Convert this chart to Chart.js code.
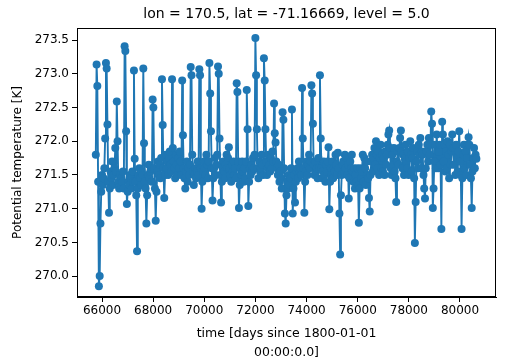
<!DOCTYPE html>
<html>
<head>
<meta charset="utf-8">
<script src="https://cdn.jsdelivr.net/npm/chart.js@4/dist/chart.umd.min.js"></script>
<style>
  html, body { margin: 0; padding: 0; background: #fff; }
  #wrap { width: 514px; height: 360px; }
</style>
</head>
<body>
<div id="wrap"><canvas id="chart" width="514" height="360"></canvas></div>
<script>
// monthly series, first month 1980-01, values in K
const startYear = 1980;
const theta = [
  271.8, 273.14, 272.82, 271.4, 269.85, 270.0, 270.78, 271.25, 271.5, 271.35,
  271.45, 271.6, 272.04, 273.16, 273.08, 272.25, 271.4, 270.94, 271.3, 271.55,
  271.45, 271.7, 271.35, 271.5, 271.6, 271.9, 271.55, 272.59, 272.0, 271.4,
  271.3, 271.5, 271.35, 271.45, 271.4, 271.55, 271.3, 273.41, 273.34, 272.15,
  271.07, 271.25, 271.4, 271.35, 271.5, 271.45, 271.3, 271.55, 271.4, 273.05,
  271.74, 271.4, 271.2, 270.37, 271.3, 271.5, 271.6, 271.45, 271.35, 271.55,
  271.5, 273.08, 271.97, 271.4, 271.3, 270.78, 271.2, 271.5, 271.65, 271.45,
  271.55, 271.6, 271.4, 272.62, 272.5, 271.6, 271.3, 270.82, 271.25, 271.55,
  271.7, 271.5, 271.65, 271.45, 271.75, 272.92, 272.24, 271.6, 271.16, 271.5,
  271.8, 271.6, 271.7, 271.5, 271.75, 271.85, 271.65, 271.55, 272.92, 271.9,
  271.7, 271.6, 271.45, 271.8, 271.65, 271.5, 271.75, 271.6, 271.85, 271.7,
  271.5, 272.9, 272.09, 271.6, 271.45, 271.3, 271.55, 271.7, 271.4, 271.6,
  271.5, 271.65, 273.1, 272.98, 271.8, 271.55, 271.35, 271.5, 271.6, 271.45,
  271.55, 271.7, 271.5, 273.07, 272.98, 271.6, 271.0, 271.4, 271.55, 271.7,
  271.6, 271.5, 271.8, 271.65, 271.45, 271.7, 273.16, 272.71, 272.15, 271.6,
  271.12, 271.45, 271.6, 271.75, 271.5, 271.65, 271.8, 273.11, 273.0, 272.04,
  271.5, 271.09, 271.4, 271.6, 271.7, 271.55, 271.45, 271.65, 271.8, 271.6,
  271.75, 271.91, 271.6, 271.5, 271.4, 271.65, 271.55, 271.7, 271.5, 271.6,
  271.45, 272.86, 272.73, 271.7, 271.01, 271.35, 271.6, 271.5, 271.7, 271.55,
  271.4, 271.6, 271.45, 271.7, 272.76, 272.18, 271.04, 271.4, 271.6, 271.5,
  271.65, 271.55, 271.75, 271.6, 271.8, 273.53, 272.98, 272.18, 271.6, 271.45,
  271.7, 271.55, 271.6, 271.8, 271.65, 271.5, 273.23, 272.9, 272.18, 271.7,
  271.5, 271.6, 271.8, 271.65, 271.55, 271.75, 271.6, 271.85, 271.7, 272.56,
  272.12, 271.98, 271.7, 271.6, 271.5, 271.65, 271.4, 271.55, 271.45, 271.3,
  272.43, 272.32, 271.6, 270.93, 270.78, 271.2, 271.4, 271.3, 271.5, 271.35,
  271.45, 271.6, 272.47, 270.93, 271.3, 271.5, 271.09, 271.4, 271.55, 271.6,
  271.45, 271.7, 271.55, 271.6, 271.5, 272.79, 272.04, 271.6, 270.94, 271.4,
  271.55, 271.7, 271.5, 271.65, 271.8, 271.6, 271.7, 272.83, 272.71, 272.26,
  271.65, 271.5, 271.7, 271.55, 271.6, 271.45, 271.75, 271.6, 272.98, 272.04,
  271.6, 271.45, 271.55, 271.7, 271.5, 271.4, 271.65, 271.55, 271.7, 271.91,
  270.99, 271.4, 271.6, 271.5, 271.7, 271.45, 271.6, 271.55, 271.8, 271.65,
  271.5, 271.83, 271.6, 270.93, 270.32, 271.2, 271.5, 271.65, 271.7, 271.55,
  271.8, 271.6, 271.75, 271.5, 271.65, 271.15, 271.45, 271.7, 271.6, 271.8,
  271.55, 271.4, 271.6, 271.3, 271.5, 271.4, 271.6, 271.35, 270.79, 271.3,
  271.6, 271.45, 271.55, 271.8, 271.4, 271.75, 271.6, 271.35, 271.7, 271.5,
  271.45, 271.16, 270.96, 271.5, 271.7, 271.8, 271.55, 271.75, 271.9, 271.65,
  272.0, 271.8, 271.6, 271.85, 271.5, 271.75, 271.95, 271.6, 271.8, 271.55,
  271.75, 271.5, 271.85, 271.65, 271.8, 271.95, 272.1, 272.16, 271.9, 271.6,
  271.5, 271.8, 271.65, 271.9, 271.55, 271.45, 271.1, 271.7, 271.85, 271.65,
  271.9, 272.05, 272.16, 271.85, 271.6, 271.8, 271.5, 271.75, 271.95, 271.7,
  271.6, 271.85, 271.5, 271.75, 272.0, 271.8, 271.55, 271.75, 271.9, 271.45,
  270.49, 271.1, 271.7, 271.85, 271.6, 271.95, 271.8, 272.05, 271.6, 271.85,
  271.8, 271.5, 271.3, 271.15, 271.6, 271.85, 271.95, 271.7, 272.05, 271.8,
  271.95, 272.44, 272.26, 271.01, 271.3, 271.7, 271.95, 271.6, 272.1, 271.85,
  271.6, 271.85, 271.95, 271.65, 270.7, 272.29, 272.1, 271.7, 271.95, 271.55,
  271.85, 271.6, 272.0, 271.8, 271.45, 271.95, 271.65, 271.85, 272.1, 271.9,
  271.65, 271.9, 271.5, 271.95, 271.75, 271.55, 271.85, 272.15, 271.7, 271.5,
  270.7, 271.45, 271.8, 271.95, 271.6, 271.85, 271.5, 271.75, 271.95, 272.06,
  271.95, 271.65, 271.45, 271.01, 271.55, 271.75, 271.9, 271.6, 271.8, 271.74
];
const xTicks = [66000, 68000, 70000, 72000, 74000, 76000, 78000, 80000];
const yTicks = [270.0, 270.5, 271.0, 271.5, 272.0, 272.5, 273.0, 273.5];

// time axis = days since 1800-01-01, mid-month
const epoch = Date.UTC(1800, 0, 1);
const points = theta.map((v, i) => ({
  x: (Date.UTC(startYear, i, 15) - epoch) / 86400000,
  y: v
}));

const font = "'DejaVu Sans', sans-serif";
const C0 = '#1f77b4';

// full box + title, matplotlib style
const frame = {
  id: 'frame',
  afterDraw(chart) {
    const { ctx, chartArea: a } = chart;
    ctx.save();
    ctx.strokeStyle = '#000';
    ctx.lineWidth = 1;
    ctx.strokeRect(a.left + 0.5, a.top + 0.5, a.right - a.left - 1, a.bottom - a.top - 1);
    ctx.fillStyle = '#000';
    ctx.font = '14px ' + font;
    ctx.textAlign = 'center';
    ctx.textBaseline = 'middle';
    ctx.fillText('lon = 170.5, lat = -71.16669, level = 5.0', (a.left + a.right) / 2, 14);
    ctx.restore();
  }
};

new Chart(document.getElementById('chart'), {
  type: 'line',
  data: {
    datasets: [{
      data: points,
      borderColor: C0,
      backgroundColor: C0,
      borderWidth: 1.9,
      pointRadius: 4,
      pointHoverRadius: 4,
      pointBorderWidth: 0,
      tension: 0
    }]
  },
  options: {
    responsive: false,
    animation: false,
    layout: { padding: { top: 28, right: 18, left: 0, bottom: 0 } },
    plugins: { legend: { display: false }, tooltip: { enabled: false } },
    scales: {
      x: {
        type: 'linear',
        min: 65022,
        max: 81408,
        afterFit: s => { s.height = 63; },
        afterBuildTicks: s => { s.ticks = xTicks.map(v => ({ value: v })); },
        grid: { drawOnChartArea: false, drawTicks: true, tickLength: 5, color: '#000' },
        border: { display: true, color: '#000' },
        ticks: { color: '#000', font: { family: font, size: 12 }, padding: 2, maxRotation: 0,
                 callback: v => String(v) },
        title: { display: true, text: ['time [days since 1800-01-01', '00:00:0.0]'],
                 color: '#000', font: { family: font, size: 12.5, lineHeight: 1.5 },
                 padding: { top: 0, bottom: -2 } }
      },
      y: {
        min: 269.69,
        max: 273.68,
        afterFit: s => { s.width = 77; },
        afterBuildTicks: s => { s.ticks = yTicks.map(v => ({ value: v })); },
        grid: { drawOnChartArea: false, drawTicks: true, tickLength: 5, color: '#000' },
        border: { display: true, color: '#000' },
        ticks: { color: '#000', font: { family: font, size: 12 }, padding: 3,
                 callback: v => v.toFixed(1) },
        title: { display: true, text: 'Potential temperature [K]',
                 color: '#000', font: { family: font, size: 12 }, padding: { top: 11, bottom: 0 } }
      }
    }
  },
  plugins: [frame]
});
</script>
</body>
</html>
